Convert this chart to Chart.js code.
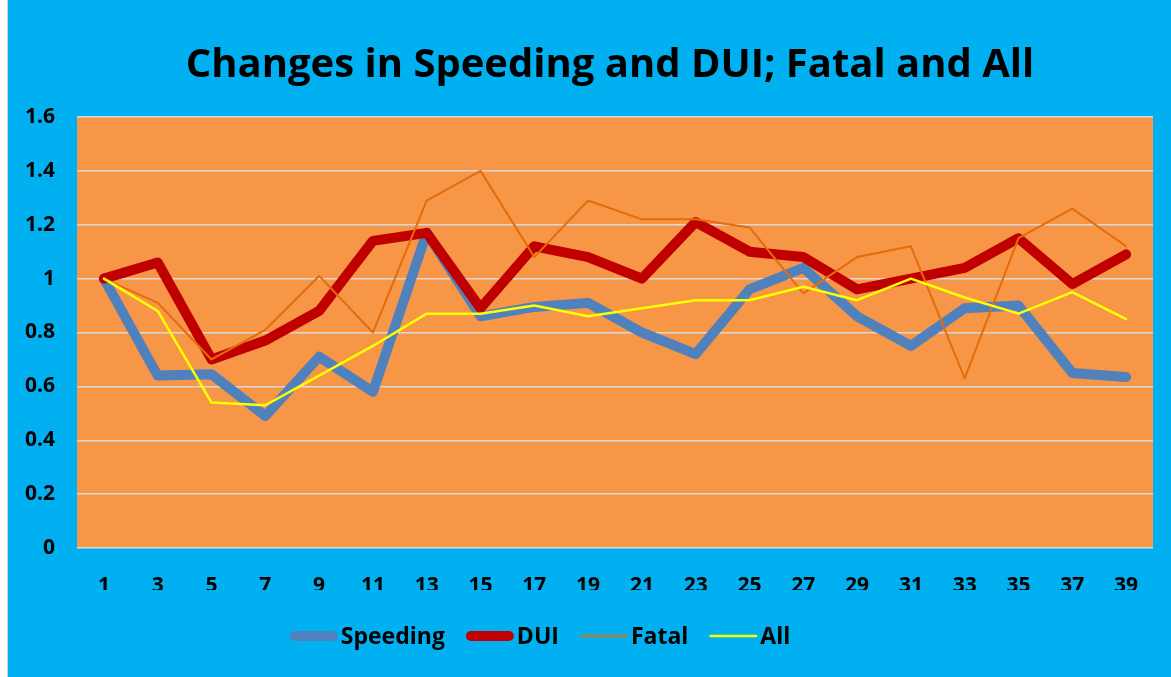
<!DOCTYPE html>
<html>
<head>
<meta charset="utf-8">
<script src="https://cdn.jsdelivr.net/npm/chart.js@4.4.0/dist/chart.umd.min.js"></script>
<style>
  html, body { margin: 0; padding: 0; background: #00B0F0; }
  #wrap { width: 1171px; height: 677px; }
</style>
</head>
<body>
<div id="wrap"><canvas id="grafico" width="1171" height="677"></canvas></div>
<script>
const titulo = "Changes in Speeding and DUI; Fatal and All";
const categorias = ["1", "3", "5", "7", "9", "11", "13", "15", "17", "19",
  "21", "23", "25", "27", "29", "31", "33", "35", "37", "39"];
const speeding = [1.0, 0.64, 0.645, 0.49, 0.71, 0.58, 1.17, 0.86, 0.895, 0.91,
  0.80, 0.72, 0.96, 1.04, 0.86, 0.75, 0.89, 0.90, 0.65, 0.635];
const dui = [1.0, 1.06, 0.70, 0.77, 0.88, 1.14, 1.17, 0.89, 1.12, 1.08,
  1.0, 1.21, 1.10, 1.08, 0.96, 1.0, 1.04, 1.15, 0.98, 1.09];
const fatal = [1.0, 0.91, 0.70, 0.81, 1.01, 0.80, 1.29, 1.40, 1.08, 1.29,
  1.22, 1.22, 1.19, 0.945, 1.08, 1.12, 0.63, 1.15, 1.26, 1.12];
const all = [1.0, 0.88, 0.54, 0.53, 0.64, 0.75, 0.87, 0.87, 0.90, 0.86,
  0.89, 0.92, 0.92, 0.97, 0.92, 1.0, 0.93, 0.87, 0.95, 0.85];

const FONTE = '"Open Sans", "Noto Sans", sans-serif';

// fundo azul, area do grafico laranja, titulo e legenda desenhados a mao
const fundo = {
  id: "fundo",
  beforeDraw(chart) {
    const { ctx, chartArea: a, width, height } = chart;
    ctx.save();
    ctx.fillStyle = "#00B0F0";
    ctx.fillRect(0, 0, width, height);
    ctx.fillStyle = "#ffffff";
    ctx.fillRect(0, 0, 7, height);
    ctx.fillStyle = "#D0D0D0";
    ctx.fillRect(7, 0, 1, height);
    ctx.fillStyle = "#F79646";
    ctx.fillRect(a.left, a.top, a.right - a.left, a.bottom - a.top);
    ctx.restore();
  },
  afterDraw(chart) {
    const { ctx, chartArea: a } = chart;
    ctx.save();
    ctx.fillStyle = "#000";
    ctx.textBaseline = "middle";
    ctx.textAlign = "center";
    ctx.font = "bold 40px " + FONTE;
    ctx.fillText(titulo, (a.left + a.right) / 2 - 5, 66);

    // legenda
    ctx.font = "bold 23px " + FONTE;
    ctx.textAlign = "left";
    const amostra = 48, gap = 3, entre = 21;
    const sets = chart.data.datasets;
    let total = 0;
    sets.forEach((d, i) => {
      total += amostra + gap + ctx.measureText(d.label).width;
      if (i > 0) total += entre;
    });
    let x = 540 - total / 2;
    const y = 636;
    sets.forEach((d) => {
      const lw = d.borderWidth;
      ctx.strokeStyle = d.borderColor;
      ctx.lineWidth = lw;
      ctx.lineCap = "round";
      ctx.beginPath();
      ctx.moveTo(x + lw / 2, y);
      ctx.lineTo(x + amostra - lw / 2, y);
      ctx.stroke();
      x += amostra + gap;
      ctx.fillText(d.label, x, y + 1);
      x += ctx.measureText(d.label).width + entre;
    });
    ctx.restore();
  },
};

function serie(label, data, cor, largura, ordem) {
  return {
    label: label,
    data: data,
    borderColor: cor,
    backgroundColor: cor,
    borderWidth: largura,
    borderCapStyle: "round",
    borderJoinStyle: "round",
    pointRadius: 0,
    pointHoverRadius: 0,
    tension: 0,
    fill: false,
    order: ordem,
  };
}

let grafico = new Chart(document.getElementById("grafico"), {
  type: "line",
  data: {
    labels: categorias,
    datasets: [
      serie("Speeding", speeding, "#4F81BD", 10, 4),
      serie("DUI", dui, "#C00000", 10, 3),
      serie("Fatal", fatal, "#E46C0A", 2, 2),
      serie("All", all, "#FFFF00", 2.5, 1),
    ],
  },
  options: {
    responsive: false,
    animation: false,
    layout: { padding: { top: 117, left: 25, right: 18, bottom: 87 } },
    plugins: {
      legend: { display: false },
      title: { display: false },
      tooltip: { enabled: false },
    },
    scales: {
      x: {
        offset: true,
        grid: { display: false },
        border: { display: false },
        ticks: {
          color: "#000",
          font: { family: FONTE, size: 21, weight: "bold" },
          padding: 17,
          maxRotation: 0,
          autoSkip: false,
        },
        afterFit(s) { s.height = 42; },
      },
      y: {
        min: 0,
        max: 1.6,
        grid: { color: "#D9D9D9", lineWidth: 1.5, drawTicks: false },
        border: { display: false },
        ticks: {
          stepSize: 0.2,
          color: "#000",
          font: { family: FONTE, size: 21, weight: "bold" },
          padding: 22,
          callback: (v) => String(+v.toFixed(1)),
        },
        afterFit(s) { s.width = 52; },
      },
    },
  },
  plugins: [fundo],
});
</script>
</body>
</html>
